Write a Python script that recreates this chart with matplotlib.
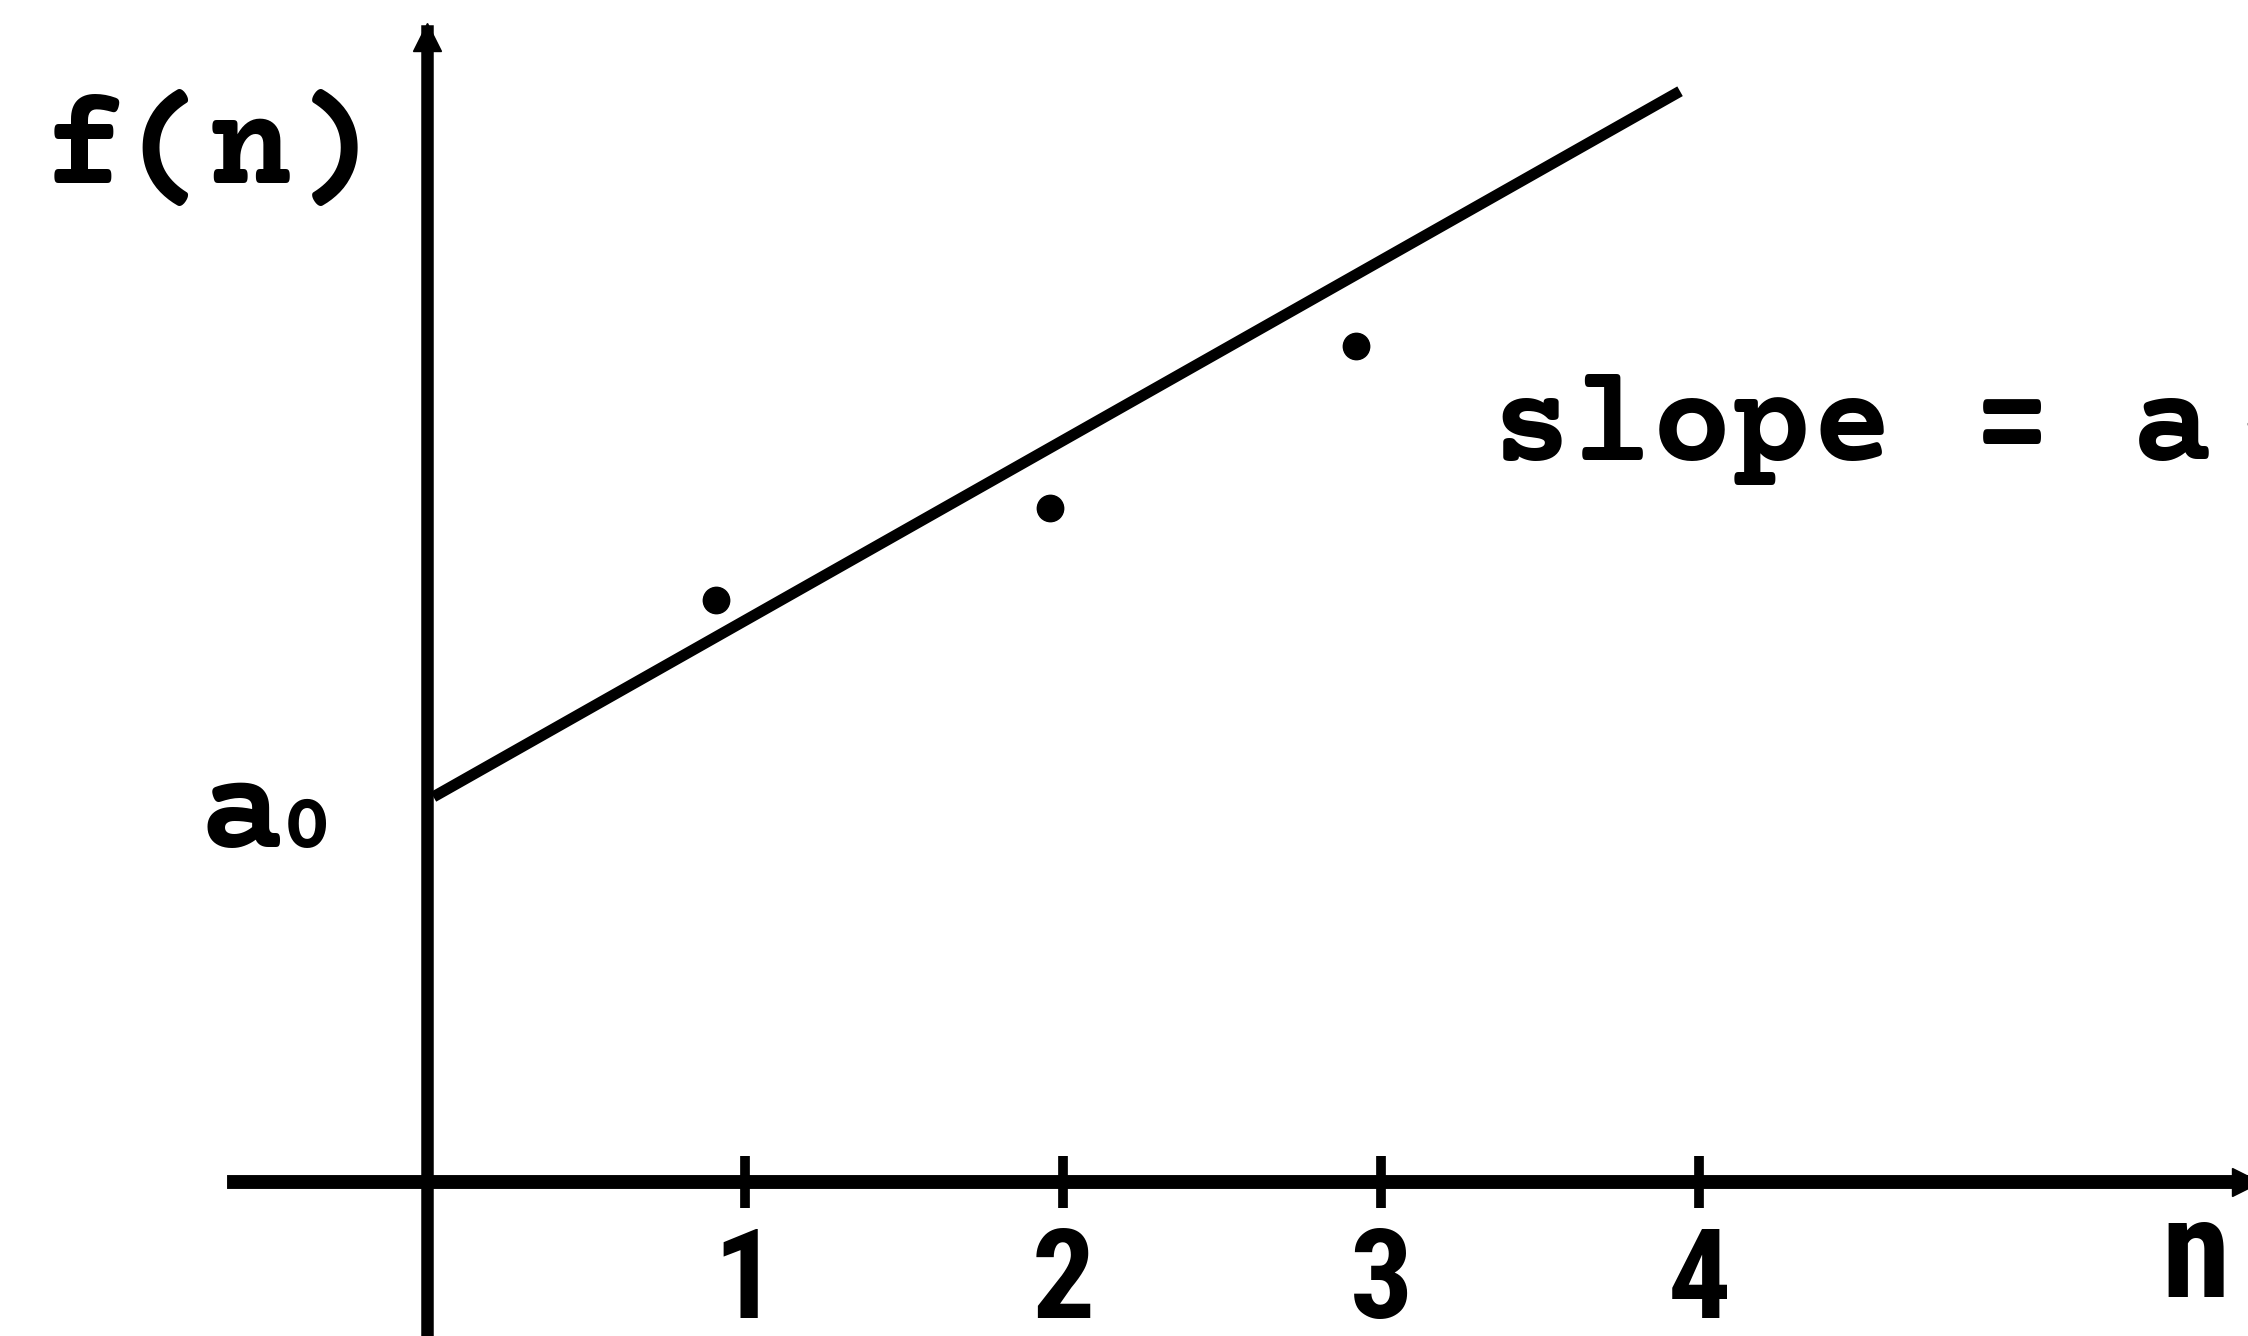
#!/usr/bin/env python3
"""Straight-line fit f(n) = a0 + a1*n, drawn in the style of an old typed figure."""

import matplotlib

matplotlib.use("Agg")
import matplotlib.pyplot as plt
import numpy as np

# data (one unit = one tick step)
tick_values = [1, 2, 3, 4]
tick_labels = ["1", "2", "3", "4"]
point_n = [0.91, 1.96, 2.92]
point_f = [1.83, 2.12, 2.63]
a0 = 1.20          # intercept
a1 = 0.566         # slope
line_end = 3.94    # last n of the drawn line

TYPE_FONT = ["Courier Prime", "Liberation Mono", "DejaVu Sans Mono"]
NARROW_FONT = ["Roboto Condensed", "DejaVu Sans"]

fig = plt.figure(figsize=(22.48, 13.36), dpi=100)
ax = fig.add_axes([0, 0, 1, 1])
ax.set_xlim(-1.343, 5.726)
ax.set_ylim(-0.484, 3.717)
ax.patch.set_visible(False)

# axes through the origin
for side in ("top", "right"):
    ax.spines[side].set_visible(False)
ax.spines["left"].set_position(("data", 0))
ax.spines["bottom"].set_position(("data", 0))
ax.spines["left"].set_linewidth(9)
ax.spines["bottom"].set_linewidth(10)
ax.spines["left"].set_bounds(-0.6, 3.62)
ax.spines["bottom"].set_bounds(-0.607, 5.8)
ax.plot([0], [3.6], marker="^", ms=20, color="k", clip_on=False)
ax.plot([5.72], [0], marker=">", ms=20, color="k", clip_on=False)

ax.set_xticks(tick_values, tick_labels)
ax.set_yticks([])
ax.tick_params(axis="x", direction="inout", length=38, width=7, pad=12, color="k")
for lab in ax.get_xticklabels():
    lab.set_fontfamily(NARROW_FONT)
    lab.set_fontweight("bold")
    lab.set_fontsize(90)

# fitted line and measured points
n_line = np.array([0.02, line_end])
ax.plot(n_line, a0 + a1 * n_line, color="k", lw=8, solid_capstyle="butt")
ax.plot(point_n, point_f, "o", color="k", ms=19, ls="none")

# labels
ax.text(-1.21, 3.14, "f(n)", family=TYPE_FONT, weight="bold", fontsize=100,
        ha="left", va="baseline")
ax.text(-0.716, a0 - 0.145, "a", family=TYPE_FONT, weight="bold", fontsize=100,
        ha="left", va="baseline")
ax.text(-0.455, a0 - 0.145, "0", family=TYPE_FONT, weight="bold", fontsize=58,
        ha="left", va="baseline")
ax.text(3.35, 2.27, "slope = a", family=TYPE_FONT, weight="bold", fontsize=96,
        ha="left", va="baseline")
ax.text(5.70, 2.27, "1", family=TYPE_FONT, weight="bold", fontsize=60,
        ha="left", va="baseline")
ax.text(5.56, -0.36, "n", family=NARROW_FONT, weight="bold", fontsize=100,
        ha="center", va="baseline")

fig.savefig("out.png", dpi=100)
